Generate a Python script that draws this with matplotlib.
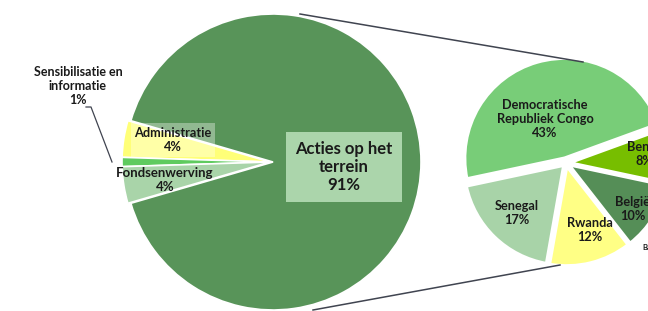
import matplotlib
matplotlib.use("Agg")
import matplotlib.pyplot as plt

# ---- data ----
main_labels = ["Acties op het\nterrein", "Administratie", "Sensibilisatie en\ninformatie", "Fondsenwerving"]
main_values = [91, 4, 1, 4]
main_colors = ["#589459", "#FFFF78", "#5FCB5F", "#A9D4A9"]

sec_labels = ["Democratische\nRepubliek Congo", "Senegal", "Rwanda", "België", "Benin"]
sec_values = [43, 17, 12, 10, 8]
sec_colors = ["#78CD78", "#A8D3A8", "#FFFF85", "#558E57", "#77BE00"]

W, H = 648, 311
plt.rcParams['font.family'] = ['Lato', 'DejaVu Sans']

fig = plt.figure(figsize=(6.48, 3.11), dpi=100)
ax = fig.add_axes([0, 0, 1, 1])


def Y(yp):
    return H - yp


# ---- main pie ----
other_share = sum(main_values[1:]) / sum(main_values)
start_main = 180 + 360 * other_share / 2
ax.pie(main_values, colors=main_colors, startangle=start_main, counterclock=True,
       center=(270, Y(162)), radius=148, explode=[3, 0, 0, 0],
       wedgeprops=dict(edgecolor="white", linewidth=1.2), frame=True)

# ---- secondary pie ----
ax.pie(sec_values, colors=sec_colors, startangle=20, counterclock=True,
       center=(566, Y(163)), radius=100, explode=[5, 3, 3, 3, 3],
       wedgeprops=dict(edgecolor="white", linewidth=2.5), frame=True)

# connector lines
ax.plot([300, 583], [Y(14), Y(62)], color="#404450", lw=1.1, zorder=5)
ax.plot([313, 560], [Y(310), Y(265)], color="#404450", lw=1.1, zorder=5)

ax.set_xlim(0, W)
ax.set_ylim(0, H)
ax.set_aspect("equal")
ax.axis("off")

tk = dict(ha="center", va="center", fontweight="bold", color="#1a1a1a", zorder=10)

# main labels
ax.text(344, Y(167), f"{main_labels[0]}\n{main_values[0]}%", fontsize=12, linespacing=1.15,
        bbox=dict(boxstyle="square,pad=0.55", fc="#ABD5AB", ec="none"), **tk)
ax.text(173, Y(140), f"{main_labels[1]}\n{main_values[1]}%", fontsize=9.2, linespacing=1.15,
        bbox=dict(boxstyle="square,pad=0.3", fc="white", ec="none", alpha=0.35), **tk)
ax.text(165, Y(180), f"{main_labels[3]}\n{main_values[3]}%", fontsize=9.5, linespacing=1.15, **tk)
ax.text(78, Y(86), f"{main_labels[2]}\n{main_values[2]}%", fontsize=9, linespacing=1.2, **tk)
ax.plot([86, 91, 112], [Y(107), Y(107), Y(162)], color="#404450", lw=0.9, zorder=6)

# secondary labels
sec_pos = [(545, 119), (517, 213), (590, 230), (633, 209), (644, 154)]
for lab, v, (px, py) in zip(sec_labels, sec_values, sec_pos):
    ax.text(px, Y(py), f"{lab}\n{v}%", fontsize=9.2, linespacing=1.2, **tk)
ax.text(642, Y(247), "Ba", fontsize=5.5, ha="left", va="center", fontweight="bold",
        color="#1a1a1a", zorder=10)

fig.savefig("out.png", dpi=100)
